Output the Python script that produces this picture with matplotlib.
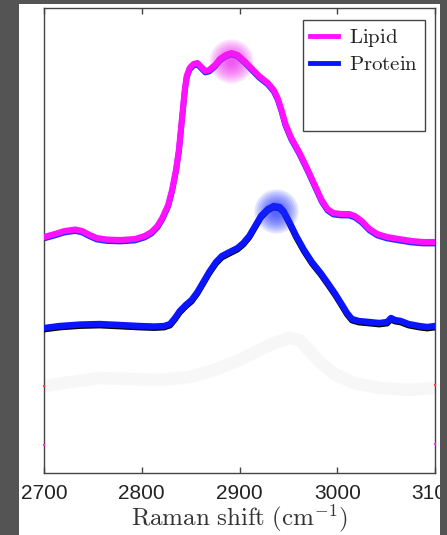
import matplotlib
matplotlib.use('Agg')
import matplotlib.pyplot as plt
import matplotlib.transforms as mtransforms
from matplotlib.patches import Rectangle
from matplotlib.lines import Line2D

plt.rcParams['mathtext.fontset'] = 'cm'
plt.rcParams['font.family'] = ['Liberation Sans', 'DejaVu Sans']

# === Data ===
lipid_x = [2700, 2711, 2721, 2732, 2739, 2747, 2754, 2764, 2778, 2793,
           2803, 2810, 2816, 2821, 2827, 2831, 2835, 2838, 2840, 2842,
           2844, 2846, 2849, 2853, 2857, 2861, 2865, 2869, 2875, 2880,
           2886, 2892, 2898, 2905, 2912, 2920, 2929, 2935, 2939, 2943,
           2947, 2953, 2961, 2969, 2977, 2984, 2990, 2996, 3004, 3012,
           3018, 3025, 3033, 3041, 3051, 3063, 3076, 3088, 3100]
lipid_y = [236, 239, 242, 243.5, 242, 238, 235, 233.5, 233, 234,
           237, 241, 247, 255, 268, 283, 303, 323, 343, 363,
           383, 397, 405, 409, 410, 406, 402, 403, 408, 414,
           418, 420, 418, 412, 405, 397, 390, 383, 375, 363,
           349, 335, 321, 305, 288, 273, 264, 260, 259, 259,
           257, 252, 244, 239, 236, 234, 232, 231, 231]

protein_x = [2700, 2716, 2737, 2757, 2778, 2798, 2813, 2823, 2829, 2834,
             2839, 2845, 2851, 2857, 2863, 2869, 2876, 2882, 2890, 2898,
             2904, 2910, 2916, 2922, 2929, 2935, 2941, 2945, 2951, 2958,
             2966, 2974, 2983, 2991, 2998, 3005, 3010, 3015, 3022, 3033,
             3043, 3051, 3055, 3059, 3065, 3073, 3084, 3092, 3100]
protein_y = [145, 147, 148.5, 149, 148, 147, 146.5, 147, 149, 155,
             162, 168, 173, 181, 191, 201, 211, 217, 221, 225,
             230, 237, 247, 257, 264, 267, 266, 262, 251, 237,
             223, 211, 200, 189, 179, 168, 160, 154, 152, 151,
             150, 151, 155, 153, 152, 149, 147, 146, 147]

faint_x = [2700, 2727, 2757, 2788, 2818, 2849, 2874, 2900, 2920, 2936,
           2951, 2961, 2971, 2982, 2997, 3017, 3043, 3073, 3100]
faint_y = [87, 91, 95, 94, 93, 96, 103, 113, 123, 130,
           135, 133, 123, 111, 99, 90, 85, 83, 85]

# peak highlights (wavenumber, intensity)
peak_x = [2891, 2937]
peak_y = [412, 262]
peak_colors = ['#ee22ee', '#1a2cff']

# tiny edge markers
edge_x = [2700, 3100, 2700, 3100]
edge_y = [87, 88, 28, 29]
edge_colors = ['#ff4040', '#ff4040', '#ff30ff', '#ff30ff']

W, H = 447, 535
fig = plt.figure(figsize=(W / 100, H / 100), dpi=100)
fig.patch.set_facecolor('white')

ax = fig.add_axes([44 / W, 62 / H, 391 / W, 465 / H])
ax.set_xlim(2700, 3100)
ax.set_ylim(0, 465)

down = mtransforms.ScaledTranslation(0, -1.5 / 100, fig.dpi_scale_trans)

# === Curves ===
ax.plot(faint_x, faint_y, color='#f7f7f7', lw=9, solid_capstyle='round', solid_joinstyle='round', zorder=1)
ax.plot(lipid_x, lipid_y, color='#2030ff', lw=4.2, transform=ax.transData + down,
        solid_joinstyle='round', zorder=2)
ax.plot(lipid_x, lipid_y, color='#ff10ff', lw=4.4, solid_joinstyle='round', zorder=3)
ax.plot(protein_x, protein_y, color='black', lw=4.2, transform=ax.transData + down,
        solid_joinstyle='round', zorder=4)
ax.plot(protein_x, protein_y, color='#0a14ff', lw=4.6, solid_joinstyle='round', zorder=5)

# glow at peaks
for px, py, c in zip(peak_x, peak_y, peak_colors):
    for r in range(22, 2, -2):
        s = (2 * r * 0.72) ** 2
        ax.scatter([px], [py], s=s, color=c, alpha=0.12, linewidths=0, zorder=6)

ax.scatter(edge_x, edge_y, s=3, c=edge_colors, linewidths=0, zorder=7, clip_on=False)

# === Axes styling ===
for sp in ax.spines.values():
    sp.set_color('#444444')
    sp.set_linewidth(1.0)
ax.set_yticks([])
ax.set_xticks([2700, 2800, 2900, 3000, 3100])
ax.tick_params(axis='x', direction='in', length=4, width=1, top=True,
               labelsize=15, pad=8, colors='#444444', labelcolor='#222222')
ax.set_xlabel(r'$\mathrm{Raman\ shift\ (cm^{-1})}$', fontsize=18, color='#333333', labelpad=-1)

handles = [Line2D([], [], color='#ff10ff', lw=3.5),
           Line2D([], [], color='#0a14ff', lw=3.5),
           Line2D([], [], color='white', lw=0),
           Line2D([], [], color='white', lw=0)]
labels = [r'$\mathrm{Lipid}$', r'$\mathrm{Protein}$', ' ', ' ']
leg = ax.legend(handles, labels, loc='upper right', bbox_to_anchor=(0.974, 0.974),
                borderaxespad=0, fontsize=15, handlelength=1.35, handletextpad=0.5,
                labelspacing=0.27, fancybox=False, framealpha=1, borderpad=0.35)
leg.get_frame().set_edgecolor('#444444')
leg.get_frame().set_linewidth(1.0)
for t in leg.get_texts():
    t.set_color('#222222')

# === dark frame around the screenshot ===
dark = '#545454'
fig.add_artist(Rectangle((0, 0), 19 / W, 1, transform=fig.transFigure, facecolor=dark, edgecolor='none', zorder=20))
fig.add_artist(Rectangle((440 / W, 0), 7 / W, 1, transform=fig.transFigure, facecolor=dark, edgecolor='none', zorder=20))
fig.add_artist(Rectangle((0, 1 - 4 / H), 1, 4 / H, transform=fig.transFigure, facecolor=dark, edgecolor='none', zorder=20))

fig.savefig('out.png', dpi=100)
